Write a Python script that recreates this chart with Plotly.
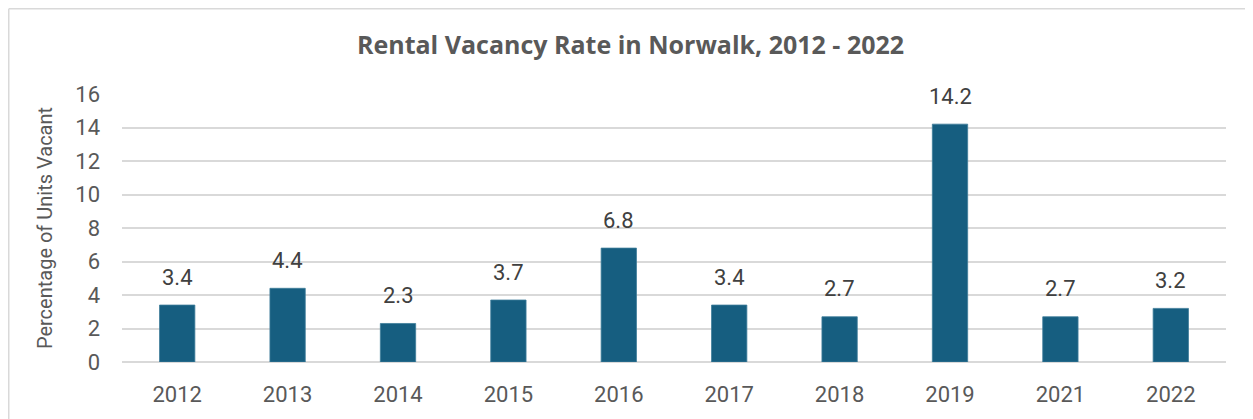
import plotly.graph_objects as go

years = ["2012", "2013", "2014", "2015", "2016", "2017", "2018", "2019", "2021", "2022"]
vacancy_rate = [3.4, 4.4, 2.3, 3.7, 6.8, 3.4, 2.7, 14.2, 2.7, 3.2]
value_labels = ["3.4", "4.4", "2.3", "3.7", "6.8", "3.4", "2.7", "14.2", "2.7", "3.2"]
y_ticks = [0, 2, 4, 6, 8, 10, 12, 14, 16]

# page is rendered with an 8px body margin; work in figure coordinates
OFF = 8
W, H = 1253 - OFF, 419 - OFF
L, T = 122 - OFF, 94 - OFF
R = W - (1226 - OFF)
B = H - (362 - OFF)
pw, ph = W - L - R, H - T - B

def px(x):
    return (x - L) / pw

def py(y):
    return (H - B - y) / ph

FONT = "Roboto, sans-serif"

fig = go.Figure()
fig.add_trace(go.Bar(
    x=years, y=vacancy_rate,
    marker=dict(color="#165E80", line=dict(color="#3E7C99", width=0.8)),
    hoverinfo="x+y",
))

# category axis: annotation x given as the category index
annotations = [
    dict(x=i, y=v, text=lab, xref="x", yref="y", showarrow=False,
         yanchor="middle", yshift=28,
         font=dict(family=FONT, size=22, color="#404040"))
    for i, (v, lab) in enumerate(zip(vacancy_rate, value_labels))
]

fig.update_layout(
    width=W, height=H,
    margin=dict(l=L, r=R, t=T, b=B),
    paper_bgcolor="white", plot_bgcolor="white",
    bargap=0.68,
    showlegend=False,
    title=dict(text="<b>Rental Vacancy Rate in Norwalk, 2012 - 2022</b>",
               x=0.5, xanchor="center", y=1 - (45 - OFF) / H, yanchor="middle",
               font=dict(family="Open Sans, sans-serif", size=25, color="#595959")),
    xaxis=dict(type="category", categoryorder="array", categoryarray=years,
               range=[-0.5, len(years) - 0.5],
               showgrid=False, showline=False, ticks="",
               tickfont=dict(family=FONT, size=22, color="#595959"),
               ticklabelstandoff=17),
    yaxis=dict(range=[0, 16], tickvals=y_ticks, showgrid=True,
               gridcolor="#D9D9D9", gridwidth=1.5,
               zeroline=True, zerolinecolor="#D9D9D9", zerolinewidth=1.5,
               showline=False, ticks="",
               tickfont=dict(family=FONT, size=22, color="#595959"),
               ticklabelstandoff=21,
               title=dict(text="Percentage of Units Vacant", standoff=17,
                          font=dict(family=FONT, size=20, color="#595959"))),
    annotations=annotations,
    shapes=[
        dict(type="line", xref="paper", yref="paper", x0=px(0.75), x1=px(W + 5), y0=py(0.75), y1=py(0.75),
             line=dict(color="#D9D9D9", width=1.5)),
        dict(type="line", xref="paper", yref="paper", x0=px(0.75), x1=px(0.75), y0=py(0.75), y1=py(H + 5),
             line=dict(color="#D9D9D9", width=1.5)),
    ],
)

fig.write_html("out.html")
